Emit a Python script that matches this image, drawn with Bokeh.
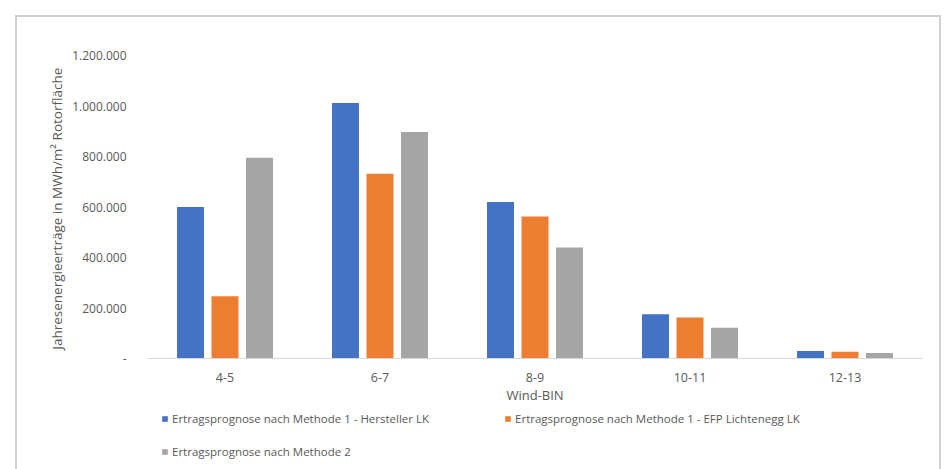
from bokeh.plotting import figure
from bokeh.layouts import column
from bokeh.models import (FactorRange, Range1d, FixedTicker, Legend, LegendItem,
                          ColumnDataSource)
from bokeh.transform import dodge
from bokeh.embed import file_html
from bokeh.resources import INLINE

categories = ["4-5", "6-7", "8-9", "10-11", "12-13"]
hersteller = [600000, 1012000, 620000, 175000, 30000]
efp_lichtenegg = [247000, 732000, 562000, 162000, 27000]
methode2 = [795000, 897000, 440000, 122000, 22000]
series_names = [
    "Ertragsprognose nach Methode 1 - Hersteller LK",
    "Ertragsprognose nach Methode 1 - EFP Lichtenegg LK",
    "Ertragsprognose nach Methode 2",
]
y_ticks = [0, 200000, 400000, 600000, 800000, 1000000, 1200000]
y_tick_labels = ["-", "200.000", "400.000", "600.000", "800.000", "1.000.000", "1.200.000"]

colors = ["#4472C4", "#ED7D31", "#A5A5A5"]
FONT = "Open Sans"
TXT = "#595959"

src = ColumnDataSource(dict(cat=categories, s1=hersteller, s2=efp_lichtenegg, s3=methode2))

p = figure(x_range=FactorRange(*categories, range_padding=0),
           y_range=Range1d(0, 1200000),
           frame_width=775, frame_height=303,
           min_border_left=130, min_border_right=17,
           min_border_top=38, min_border_bottom=51,
           output_backend="svg", toolbar_location=None)

p.outline_line_color = None
p.grid.grid_line_color = None
p.background_fill_color = "white"
p.border_fill_color = "white"

renderers = []
for i, (key, off) in enumerate([("s1", -0.2226), ("s2", 0.0), ("s3", 0.2226)]):
    r = p.vbar(x=dodge("cat", off, range=p.x_range), top=key, width=0.174,
               source=src, color=colors[i], line_color=None)
    renderers.append(r)

# y axis
ya = p.yaxis[0]
ya.ticker = FixedTicker(ticks=y_ticks)
ya.major_label_overrides = {t: l for t, l in zip(y_ticks, y_tick_labels)}
ya.axis_line_color = None
ya.major_tick_line_color = None
ya.minor_tick_line_color = None
ya.major_label_standoff = 15
ya.major_label_text_font = FONT
ya.major_label_text_font_size = "12px"
ya.major_label_text_color = TXT
ya.axis_label = "Jahresenergieerträge  in MWh/m² Rotorfläche"
ya.axis_label_text_font = FONT
ya.axis_label_text_font_size = "13.5px"
ya.axis_label_text_font_style = "normal"
ya.axis_label_text_color = TXT
ya.axis_label_standoff = 3

# x axis
xa = p.xaxis[0]
xa.axis_line_color = "#D9D9D9"
xa.major_tick_line_color = None
xa.minor_tick_line_color = None
xa.major_label_standoff = 8
xa.major_label_text_font = FONT
xa.major_label_text_font_size = "12.5px"
xa.major_label_text_color = TXT
xa.axis_label = "Wind-BIN"
xa.axis_label_text_font = FONT
xa.axis_label_text_font_size = "13px"
xa.axis_label_text_font_style = "normal"
xa.axis_label_text_color = TXT
xa.axis_label_standoff = 1

# legend strip (separate canvas below the chart so the legend is not clipped)
pl = figure(width=922, height=60, x_range=Range1d(0, 1), y_range=Range1d(0, 1),
            min_border=0, x_axis_location=None, y_axis_location=None,
            output_backend="svg", toolbar_location=None)
pl.outline_line_color = None
pl.grid.grid_line_color = None
# proxy renderers whose only bar lies outside the visible range (legend swatches only)
leg_r = [pl.vbar(x=[5], top=[5], bottom=[4], width=0.1, color=c, line_color=None)
         for c in colors]

def make_legend(items, loc, spacing=0):
    return Legend(items=items, orientation="horizontal", location=loc,
                  glyph_width=7, glyph_height=7, label_standoff=4,
                  spacing=spacing, padding=0, margin=0,
                  border_line_color=None, background_fill_alpha=0,
                  label_text_font=FONT, label_text_font_size="11.5px",
                  label_text_color=TXT)

lg1 = make_legend([LegendItem(label=series_names[0], renderers=[leg_r[0]]),
                   LegendItem(label=series_names[1], renderers=[leg_r[1]])],
                  (14, 43), spacing=75)
lg2 = make_legend([LegendItem(label=series_names[2], renderers=[leg_r[2]])], (14, 10))
pl.add_layout(lg1, "center")
pl.add_layout(lg2, "center")

layout = column(p, pl, spacing=0,
                styles={"margin-left": "15px", "margin-top": "15px",
                        "border": "2px solid #D0D0D0", "box-sizing": "content-box"})

open("out.html", "w").write(file_html(layout, INLINE))
